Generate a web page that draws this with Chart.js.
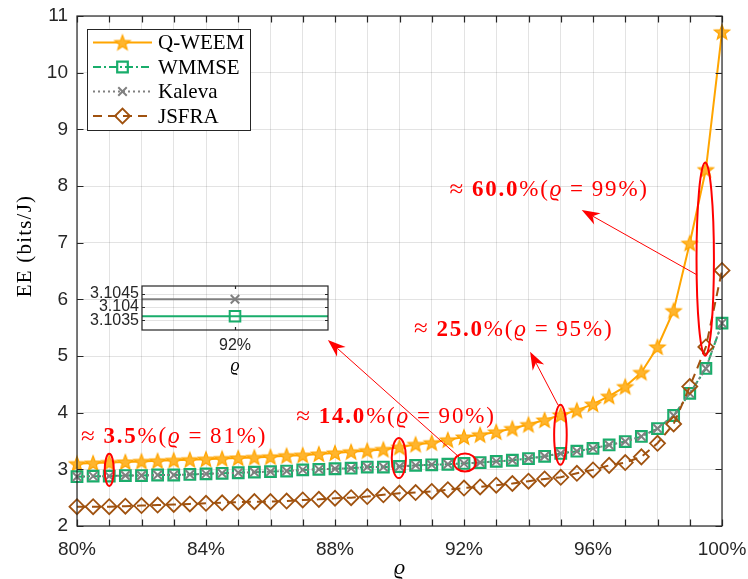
<!DOCTYPE html>
<html>
<head>
<meta charset="utf-8">
<script src="https://cdn.jsdelivr.net/npm/chart.js@4.4.1/dist/chart.umd.min.js"></script>
<style>
  html, body { margin: 0; padding: 0; background: #fff; }
  #wrap { position: relative; width: 748px; height: 579px; }
  #main { position: absolute; left: 0; top: 0; }
  #inset { position: absolute; left: 82px; top: 282px; }
</style>
</head>
<body>
<div id="wrap">
  <canvas id="main" width="748" height="579" style="width:748px;height:579px"></canvas>
  <canvas id="inset" width="250" height="96" style="width:250px;height:96px"></canvas>
</div>
<script>
// Reliability threshold rho (%)
const rho = [80, 80.5, 81, 81.5, 82, 82.5, 83, 83.5, 84, 84.5, 85, 85.5, 86, 86.5, 87, 87.5,
             88, 88.5, 89, 89.5, 90, 90.5, 91, 91.5, 92, 92.5, 93, 93.5, 94, 94.5, 95, 95.5,
             96, 96.5, 97, 97.5, 98, 98.5, 99, 99.5, 100];

// Energy efficiency (bits/J) for each scheme
const qweem  = [3.10, 3.11, 3.12, 3.13, 3.14, 3.15, 3.16, 3.17, 3.18, 3.19, 3.20, 3.21, 3.22, 3.24, 3.25, 3.27,
                3.29, 3.31, 3.33, 3.35, 3.39, 3.44, 3.47, 3.52, 3.57, 3.61, 3.66, 3.72, 3.79, 3.87, 3.96, 4.04,
                4.15, 4.29, 4.46, 4.71, 5.16, 5.80, 6.99, 8.29, 10.72];
const wmmse  = [2.87, 2.88, 2.88, 2.89, 2.89, 2.90, 2.90, 2.91, 2.92, 2.93, 2.94, 2.95, 2.96, 2.97, 2.99, 3.00,
                3.01, 3.02, 3.04, 3.04, 3.05, 3.07, 3.08, 3.09, 3.10365, 3.12, 3.14, 3.16, 3.19, 3.23, 3.28, 3.32,
                3.37, 3.43, 3.49, 3.58, 3.72, 3.95, 4.34, 4.78, 5.58];
const kaleva = [2.87, 2.88, 2.88, 2.89, 2.89, 2.90, 2.90, 2.91, 2.92, 2.93, 2.94, 2.95, 2.96, 2.97, 2.99, 3.00,
                3.01, 3.02, 3.04, 3.04, 3.05, 3.07, 3.08, 3.09, 3.1043, 3.12, 3.14, 3.16, 3.19, 3.23, 3.28, 3.32,
                3.37, 3.43, 3.49, 3.58, 3.72, 3.95, 4.34, 4.78, 5.58];
const jsfra  = [2.34, 2.34, 2.34, 2.35, 2.36, 2.37, 2.38, 2.39, 2.40, 2.41, 2.42, 2.43, 2.43, 2.44, 2.46, 2.47,
                2.49, 2.50, 2.52, 2.55, 2.58, 2.59, 2.61, 2.64, 2.67, 2.69, 2.72, 2.75, 2.79, 2.83, 2.86, 2.93,
                2.99, 3.07, 3.12, 3.22, 3.46, 3.80, 4.46, 5.16, 6.51];

// Axis ticks and labels
const xTicks = [80, 81, 82, 83, 84, 85, 86, 87, 88, 89, 90, 91, 92, 93, 94, 95, 96, 97, 98, 99, 100];
const xLabelled = [80, 84, 88, 92, 96, 100];
const xTickLabels = ['80%', '84%', '88%', '92%', '96%', '100%'];
const yTicks = [2, 3, 4, 5, 6, 7, 8, 9, 10, 11];
const insetTicks = [3.1035, 3.104, 3.1045];
const insetTickLabels = ['3.1035', '3.104', '3.1045'];
const insetX = 92;
const insetXLabel = '92%';

// Gain annotations
const gains = [
  { bold: '3.5',  at: '81%', tx: 83.01, ty: 3.57 },
  { bold: '14.0', at: '90%', tx: 89.89, ty: 3.92 },
  { bold: '25.0', at: '95%', tx: 93.54, ty: 5.46 },
  { bold: '60.0', at: '99%', tx: 94.64, ty: 7.93 }
];

const ORANGE = '#FFA500', GREEN = '#19AD6B', GRAY = '#808080', BROWN = '#A0520F';
const AXIS = '#262626', GRID = 'rgba(38,38,38,0.13)', RED = '#FF0000';
const SANS = "'Liberation Sans', Arial, sans-serif";
const SERIF = "'Liberation Serif', 'DejaVu Serif', serif";

function makeStar(r, fill, stroke) {
  const s = Math.ceil(r * 2 + 4);
  const c = document.createElement('canvas');
  c.width = s; c.height = s;
  const g = c.getContext('2d');
  const cx = s / 2, cy = s / 2 + r * 0.08;
  g.beginPath();
  for (let i = 0; i < 10; i++) {
    const a = -Math.PI / 2 + i * Math.PI / 5;
    const rr = i % 2 ? r * 0.42 : r;
    g.lineTo(cx + rr * Math.cos(a), cy + rr * Math.sin(a));
  }
  g.closePath();
  g.fillStyle = fill; g.fill();
  g.lineWidth = 1.2; g.strokeStyle = stroke; g.stroke();
  return c;
}
const starImg = makeStar(8, '#FFB52E', ORANGE);

const pts = arr => rho.map((x, i) => ({ x, y: arr[i] }));
const noPad = s => { s.paddingTop = 0; s.paddingBottom = 0; s.paddingLeft = 0; s.paddingRight = 0; };

const datasets = [
  { label: 'Q-WEEM', data: pts(qweem), borderColor: ORANGE, borderWidth: 2, pointStyle: starImg,
    pointRadius: 8, order: 4, clip: false },
  { label: 'WMMSE', data: pts(wmmse), borderColor: GREEN, borderWidth: 2, borderDash: [8, 3, 2, 3],
    pointStyle: 'rect', pointRadius: 7.5, pointBorderColor: GREEN, pointBackgroundColor: 'rgba(0,0,0,0)',
    pointBorderWidth: 2.2, order: 3, clip: false },
  { label: 'Kaleva', data: pts(kaleva), borderColor: GRAY, borderWidth: 2, borderDash: [2, 3],
    pointStyle: 'crossRot', pointRadius: 6, pointBorderColor: GRAY, pointBorderWidth: 2, order: 2, clip: false },
  { label: 'JSFRA', data: pts(jsfra), borderColor: BROWN, borderWidth: 2, borderDash: [9, 6],
    pointStyle: 'rectRot', pointRadius: 7.5, pointBorderColor: BROWN, pointBackgroundColor: 'rgba(0,0,0,0)',
    pointBorderWidth: 1.8, order: 1, clip: false }
];

function drawArrow(ctx, x1, y1, x2, y2) {
  const ang = Math.atan2(y2 - y1, x2 - x1);
  const L = 18, W = 6.5;
  const bx = x2 - L * Math.cos(ang), by = y2 - L * Math.sin(ang);
  const nx = -Math.sin(ang), ny = Math.cos(ang);
  const mx = x2 - L * 0.7 * Math.cos(ang), my = y2 - L * 0.7 * Math.sin(ang);
  ctx.beginPath(); ctx.moveTo(x1, y1); ctx.lineTo(mx, my); ctx.stroke();
  ctx.beginPath();
  ctx.moveTo(x2, y2);
  ctx.lineTo(bx + nx * W, by + ny * W);
  ctx.lineTo(mx, my);
  ctx.lineTo(bx - nx * W, by - ny * W);
  ctx.closePath(); ctx.fill();
}

function gainText(ctx, g, cx, cy) {
  const size = 23;
  const parts = [
    ['≈', `${size + 2}px ${SERIF}`], [' ', `${size}px ${SERIF}`, 0.3],
    [g.bold, `bold ${size}px ${SERIF}`], ['%(', `${size}px ${SERIF}`],
    ['ϱ', `italic ${size}px ${SERIF}`], [' ', `${size}px ${SERIF}`, 0.3], ['=', `${size}px ${SERIF}`],
    [' ', `${size}px ${SERIF}`, 0.3], [g.at + ')', `${size}px ${SERIF}`]
  ];
  ctx.save();
  ctx.letterSpacing = '1.8px';
  let total = 0;
  const widths = parts.map(p => {
    ctx.font = p[1];
    const w = p[0] === ' ' ? size * p[2] : ctx.measureText(p[0]).width;
    total += w; return w;
  });
  let x = cx - total / 2;
  ctx.fillStyle = RED; ctx.textBaseline = 'middle'; ctx.textAlign = 'left';
  parts.forEach((p, i) => {
    if (p[0] !== ' ') { ctx.font = p[1]; ctx.fillText(p[0], x, cy); }
    x += widths[i];
  });
  ctx.restore();
}

const mainDecor = {
  id: 'mainDecor',
  afterDatasetsDraw(chart) {
    const ctx = chart.ctx, a = chart.chartArea;
    const X = v => chart.scales.x.getPixelForValue(v), Y = v => chart.scales.y.getPixelForValue(v);
    ctx.save();
    // axes box and inward tick marks
    ctx.strokeStyle = AXIS; ctx.lineWidth = 1.2;
    ctx.strokeRect(a.left, a.top, a.right - a.left, a.bottom - a.top);
    ctx.beginPath();
    xTicks.forEach(t => {
      const px = Math.round(X(t)) + 0.5;
      ctx.moveTo(px, a.bottom); ctx.lineTo(px, a.bottom - 6.5);
      ctx.moveTo(px, a.top); ctx.lineTo(px, a.top + 6.5);
    });
    yTicks.forEach(t => {
      const py = Math.round(Y(t)) + 0.5;
      ctx.moveTo(a.left, py); ctx.lineTo(a.left + 6.5, py);
      ctx.moveTo(a.right, py); ctx.lineTo(a.right - 6.5, py);
    });
    ctx.stroke();

    // axis titles
    ctx.textAlign = 'center'; ctx.textBaseline = 'middle';
    ctx.save();
    ctx.translate(25, 246); ctx.rotate(-Math.PI / 2);
    ctx.letterSpacing = '1.2px';
    ctx.font = `21px ${SERIF}`;
    ctx.fillStyle = '#000';
    ctx.fillText('EE (bits/J)', 0, 0);
    ctx.restore();
    ctx.font = `italic 22px ${SERIF}`;
    ctx.fillStyle = '#000';
    ctx.fillText('ϱ', (a.left + a.right) / 2, 568);

    // ellipses marking the compared points
    ctx.strokeStyle = RED; ctx.fillStyle = RED; ctx.lineWidth = 2;
    const rings = [[81, 2.99, 0.14, 0.285], [89.98, 3.20, 0.22, 0.355], [92.03, 3.121, 0.34, 0.16],
                   [94.99, 3.61, 0.195, 0.53], [99.48, 6.71, 0.27, 1.706]];
    rings.forEach(([cx, cy, rx, ry]) => {
      ctx.beginPath();
      ctx.ellipse(X(cx), Y(cy), Math.abs(X(cx + rx) - X(cx)), Math.abs(Y(cy + ry) - Y(cy)), 0, 0, Math.PI * 2);
      ctx.stroke();
    });
    // arrows
    ctx.lineWidth = 1;
    [[91.845, 3.218, 87.78, 5.283], [94.915, 4.136, 94.05, 5.076], [99.23, 6.43, 95.65, 7.577]]
      .forEach(([x1, y1, x2, y2]) => drawArrow(ctx, X(x1), Y(y1), X(x2), Y(y2)));
    // gain labels
    gains.forEach(g => gainText(ctx, g, X(g.tx), Y(g.ty)));

    // legend
    const lx = 87.5, ly = 29.5, lw = 163, lh = 101;
    ctx.fillStyle = '#fff'; ctx.fillRect(lx, ly, lw, lh);
    ctx.strokeStyle = AXIS; ctx.lineWidth = 1; ctx.strokeRect(lx, ly, lw, lh);
    chart.data.datasets.forEach((ds, i) => {
      const yy = 42.5 + i * 24.5;
      ctx.save();
      ctx.strokeStyle = ds.borderColor; ctx.lineWidth = ds.borderWidth;
      ctx.setLineDash(ds.borderDash || []);
      ctx.beginPath(); ctx.moveTo(93, yy); ctx.lineTo(152, yy); ctx.stroke();
      ctx.setLineDash([]);
      if (typeof ds.pointStyle === 'string') {
        ctx.strokeStyle = ds.pointBorderColor; ctx.lineWidth = ds.pointBorderWidth;
        ctx.fillStyle = ds.pointBackgroundColor || 'rgba(0,0,0,0)';
        Chart.helpers.drawPoint(ctx, { pointStyle: ds.pointStyle, radius: ds.pointRadius, rotation: 0,
          borderWidth: ds.pointBorderWidth }, 122.5, yy);
      } else {
        ctx.drawImage(ds.pointStyle, 122.5 - ds.pointStyle.width / 2, yy - ds.pointStyle.height / 2);
      }
      ctx.restore();
      ctx.fillStyle = '#000'; ctx.font = `21px ${SERIF}`;
      ctx.textAlign = 'left'; ctx.textBaseline = 'middle';
      ctx.fillText(ds.label, 158, yy + 1);
    });
    ctx.restore();
  }
};

new Chart(document.getElementById('main'), {
  type: 'line',
  data: { datasets },
  options: {
    responsive: false, animation: false, devicePixelRatio: 1,
    layout: { autoPadding: false, padding: { left: 0, right: 26, top: 16, bottom: 0 } },
    elements: { line: { tension: 0 } },
    plugins: { legend: { display: false }, tooltip: { enabled: false } },
    scales: {
      x: {
        type: 'linear', min: 80, max: 100,
        afterBuildTicks: s => { s.ticks = xTicks.map(v => ({ value: v })); },
        afterFit: s => { s.height = 53; noPad(s); },
        ticks: {
          autoSkip: false, maxRotation: 0, padding: 12, color: AXIS, font: { family: SANS, size: 19 },
          callback: v => { const k = xLabelled.indexOf(v); return k >= 0 ? xTickLabels[k] : ''; }
        },
        grid: { color: GRID, drawTicks: false, lineWidth: 1 },
        border: { display: false }
      },
      y: {
        type: 'linear', min: 2, max: 11,
        afterBuildTicks: s => { s.ticks = yTicks.map(v => ({ value: v })); },
        afterFit: s => { s.width = 77; noPad(s); },
        ticks: { autoSkip: false, padding: 9, color: AXIS, font: { family: SANS, size: 19 },
                 callback: v => String(v) },
        grid: { color: GRID, drawTicks: false, lineWidth: 1 },
        border: { display: false }
      }
    }
  },
  plugins: [mainDecor]
});

// Zoomed view around rho = 92%: both curves are flat at this scale, so each is drawn
// as a level line through its value at rho = 92%.
const i92 = rho.indexOf(insetX);
const insetDecor = {
  id: 'insetDecor',
  beforeDatasetsDraw(chart) {
    const ctx = chart.ctx, a = chart.chartArea;
    ctx.save();
    chart.data.datasets.forEach(ds => {
      const py = chart.scales.y.getPixelForValue(ds.data[0].y);
      ctx.strokeStyle = ds.borderColor; ctx.lineWidth = ds.borderWidth;
      ctx.beginPath(); ctx.moveTo(a.left, py); ctx.lineTo(a.right, py); ctx.stroke();
    });
    ctx.restore();
  },
  afterDatasetsDraw(chart) {
    const ctx = chart.ctx, a = chart.chartArea;
    const X = v => chart.scales.x.getPixelForValue(v), Y = v => chart.scales.y.getPixelForValue(v);
    ctx.save();
    ctx.strokeStyle = AXIS; ctx.lineWidth = 1.2;
    ctx.strokeRect(a.left, a.top, a.right - a.left, a.bottom - a.top);
    ctx.beginPath();
    insetTicks.forEach(t => {
      const py = Math.round(Y(t)) + 0.5;
      ctx.moveTo(a.left, py); ctx.lineTo(a.left + 3, py);
      ctx.moveTo(a.right, py); ctx.lineTo(a.right - 3, py);
    });
    const px = Math.round(X(insetX)) + 0.5;
    ctx.moveTo(px, a.bottom); ctx.lineTo(px, a.bottom - 3);
    ctx.moveTo(px, a.top); ctx.lineTo(px, a.top + 3);
    ctx.stroke();
    ctx.fillStyle = '#000'; ctx.font = `italic 18px ${SERIF}`;
    ctx.textAlign = 'center'; ctx.textBaseline = 'middle';
    ctx.fillText('ϱ', (a.left + a.right) / 2, 84);
    ctx.restore();
  }
};

new Chart(document.getElementById('inset'), {
  type: 'line',
  data: {
    datasets: [
      { data: [{ x: insetX, y: wmmse[i92] }], borderColor: GREEN, borderWidth: 2, showLine: false,
        pointStyle: 'rect', pointRadius: 7.5, pointBorderColor: GREEN, pointBackgroundColor: 'rgba(0,0,0,0)',
        pointBorderWidth: 2, order: 2 },
      { data: [{ x: insetX, y: kaleva[i92] }], borderColor: GRAY, borderWidth: 2, showLine: false,
        pointStyle: 'crossRot', pointRadius: 6, pointBorderColor: GRAY, pointBorderWidth: 2, order: 1 }
    ]
  },
  options: {
    responsive: false, animation: false, devicePixelRatio: 1,
    layout: { autoPadding: false, padding: { left: 0, right: 4, top: 4, bottom: 0 } },
    plugins: { legend: { display: false }, tooltip: { enabled: false } },
    scales: {
      x: {
        type: 'linear', min: insetX - 0.5, max: insetX + 0.5,
        afterBuildTicks: s => { s.ticks = [{ value: insetX }]; },
        afterFit: s => { s.height = 48; noPad(s); },
        ticks: { autoSkip: false, maxRotation: 0, padding: 6, color: AXIS, font: { family: SANS, size: 16 },
                 callback: () => insetXLabel },
        grid: { display: false, drawTicks: false },
        border: { display: false }
      },
      y: {
        type: 'linear', min: 3.10312, max: 3.10481,
        afterBuildTicks: s => { s.ticks = insetTicks.map(v => ({ value: v })); },
        afterFit: s => { s.width = 60; noPad(s); },
        ticks: { autoSkip: false, padding: 3, color: AXIS, font: { family: SANS, size: 16 },
                 callback: (v, i) => insetTickLabels[i] },
        grid: { color: GRID, drawTicks: false },
        border: { display: false }
      }
    }
  },
  plugins: [insetDecor]
});
</script>
</body>
</html>
